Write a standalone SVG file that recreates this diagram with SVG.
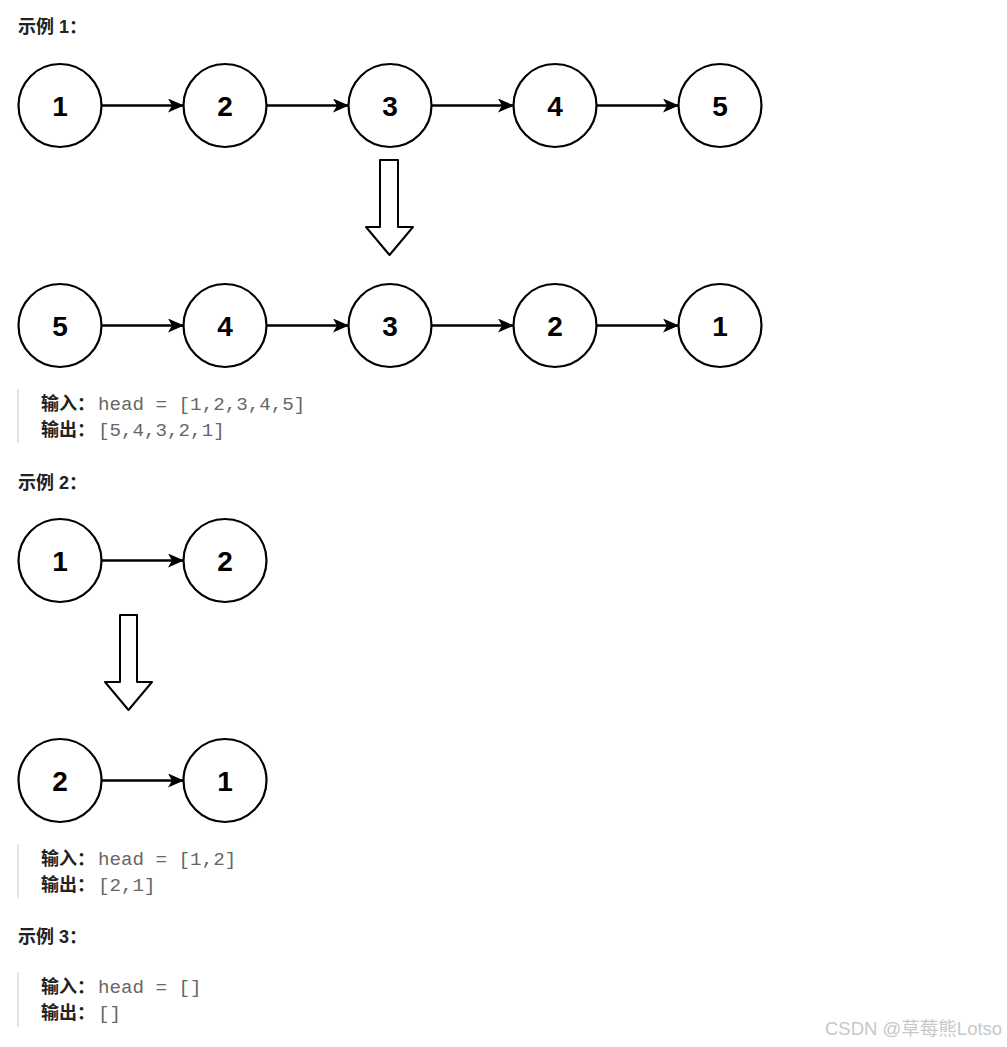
<svg xmlns="http://www.w3.org/2000/svg" width="1007" height="1047" viewBox="0 0 1007 1047">
<style>
.h{font-family:"Liberation Sans","Noto Sans CJK SC",sans-serif;font-weight:bold;font-size:18px;fill:#222}
.lb{font-family:"Liberation Sans","Noto Sans CJK SC",sans-serif;font-weight:bold;font-size:18px;fill:#222}
.code{font-family:"Liberation Mono",monospace;font-size:19.2px;fill:#666}
.n circle{fill:#fff;stroke:#000;stroke-width:2.2}
.n text{font-family:"Liberation Sans",Arial,sans-serif;font-weight:bold;font-size:28px;text-anchor:middle;fill:#000}
.e{stroke:#000;stroke-width:2.4;fill:none;marker-end:url(#ah)}
.big{fill:#fff;stroke:#000;stroke-width:2;stroke-linejoin:round}
.bq{stroke:#e5e5e5;stroke-width:2}
.wm{font-family:"Liberation Sans","Noto Sans CJK SC",sans-serif;font-size:18.5px;fill:#c8c8c8}
</style>
<defs>
<marker id="ah" markerWidth="16" markerHeight="14" refX="15" refY="7" orient="auto" markerUnits="userSpaceOnUse">
<path d="M0,0 L16,7 L0,14 L4,7 Z" fill="#000"/>
</marker>
</defs>
<rect width="1007" height="1047" fill="#fff"/>

<text class="h" x="18" y="33">示例 1：</text>

<g id="connectors">
<line class="e" x1="102" y1="105.5" x2="183" y2="105.5"/>
<line class="e" x1="267" y1="105.5" x2="348" y2="105.5"/>
<line class="e" x1="432" y1="105.5" x2="513" y2="105.5"/>
<line class="e" x1="597" y1="105.5" x2="678" y2="105.5"/>
<line class="e" x1="102" y1="325.5" x2="183" y2="325.5"/>
<line class="e" x1="267" y1="325.5" x2="348" y2="325.5"/>
<line class="e" x1="432" y1="325.5" x2="513" y2="325.5"/>
<line class="e" x1="597" y1="325.5" x2="678" y2="325.5"/>
<line class="e" x1="102" y1="560.5" x2="183" y2="560.5"/>
<line class="e" x1="102" y1="780.5" x2="183" y2="780.5"/>
<path class="big" d="M380,160 L398,160 L398,227 L413,227 L389.5,255 L366,227 L380,227 Z"/>
<path class="big" d="M120,615 L137,615 L137,682 L152,682 L128.5,710 L105,682 L120,682 Z"/>
</g>

<g id="a1" class="n"><circle cx="60" cy="105.5" r="41.5"/><text x="60" y="115.5">1</text></g>
<g id="a2" class="n"><circle cx="225" cy="105.5" r="41.5"/><text x="225" y="115.5">2</text></g>
<g id="a3" class="n"><circle cx="390" cy="105.5" r="41.5"/><text x="390" y="115.5">3</text></g>
<g id="a4" class="n"><circle cx="555" cy="105.5" r="41.5"/><text x="555" y="115.5">4</text></g>
<g id="a5" class="n"><circle cx="720" cy="105.5" r="41.5"/><text x="720" y="115.5">5</text></g>

<g id="b5" class="n"><circle cx="60" cy="325.5" r="41.5"/><text x="60" y="335.5">5</text></g>
<g id="b4" class="n"><circle cx="225" cy="325.5" r="41.5"/><text x="225" y="335.5">4</text></g>
<g id="b3" class="n"><circle cx="390" cy="325.5" r="41.5"/><text x="390" y="335.5">3</text></g>
<g id="b2" class="n"><circle cx="555" cy="325.5" r="41.5"/><text x="555" y="335.5">2</text></g>
<g id="b1" class="n"><circle cx="720" cy="325.5" r="41.5"/><text x="720" y="335.5">1</text></g>

<line class="bq" x1="18" y1="389" x2="18" y2="443"/>
<text class="lb" x="41" y="410">输入：</text>
<text class="code" x="98" y="410">head = [1,2,3,4,5]</text>
<text class="lb" x="41" y="436">输出：</text>
<text class="code" x="98" y="436">[5,4,3,2,1]</text>

<text class="h" x="18" y="489">示例 2：</text>

<g id="c1" class="n"><circle cx="60" cy="560.5" r="41.5"/><text x="60" y="570.5">1</text></g>
<g id="c2" class="n"><circle cx="225" cy="560.5" r="41.5"/><text x="225" y="570.5">2</text></g>
<g id="d2" class="n"><circle cx="60" cy="780.5" r="41.5"/><text x="60" y="790.5">2</text></g>
<g id="d1" class="n"><circle cx="225" cy="780.5" r="41.5"/><text x="225" y="790.5">1</text></g>

<line class="bq" x1="18" y1="844" x2="18" y2="898"/>
<text class="lb" x="41" y="865">输入：</text>
<text class="code" x="98" y="865">head = [1,2]</text>
<text class="lb" x="41" y="891">输出：</text>
<text class="code" x="98" y="891">[2,1]</text>

<text class="h" x="18" y="943">示例 3：</text>

<line class="bq" x1="18" y1="972" x2="18" y2="1027"/>
<text class="lb" x="41" y="993">输入：</text>
<text class="code" x="98" y="993">head = []</text>
<text class="lb" x="41" y="1019">输出：</text>
<text class="code" x="98" y="1019">[]</text>

<text class="wm" x="825" y="1035">CSDN @草莓熊Lotso</text>
</svg>
